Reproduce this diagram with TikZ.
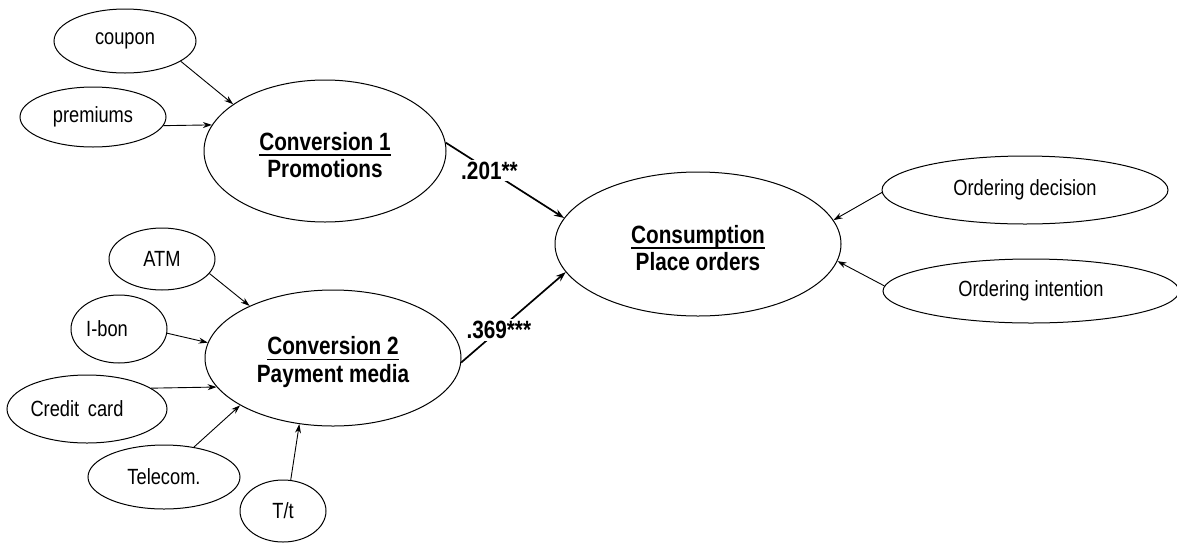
\documentclass[tikz,border=0pt]{standalone}
\usepackage{fontspec}
\setmainfont{Liberation Sans}[FakeStretch=0.83]
\usetikzlibrary{shapes.geometric,arrows.meta}

% bold heading line with a thick underline
\newsavebox\headbox
\newcommand\headline[1]{\sbox\headbox{#1}\rule{0pt}{26pt}\rlap{\rule[-5.5pt]{\wd\headbox}{1.4pt}}\usebox\headbox}

\tikzset{
  oval/.style={ellipse, draw, line width=1pt, inner sep=0pt,
    font=\fontsize{22}{26}\selectfont},
  construct/.style={oval, align=center,
    font=\fontsize{25}{27.5}\selectfont\bfseries},
  feed/.style={line width=0.9pt, -{Stealth[length=9pt,width=6pt]}},
  path/.style={line width=1.7pt, -{Stealth[length=10pt,width=7pt]}},
  coef/.style={fill=white, inner sep=2pt, font=\fontsize{25}{27}\selectfont\bfseries}
}

\begin{document}
\begin{tikzpicture}[x=1pt,y=-1pt]
\useasboundingbox (0,0) rectangle (1177,544);

% constructs
\node[construct, minimum width=242pt, minimum height=142pt] (c1) at (325,151)
  {\headline{Conversion 1}\\Promotions};
\node[construct, minimum width=256pt, minimum height=136pt] (c2) at (333,358)
  {\headline{Conversion 2}\\Payment media};
\node[construct, minimum width=286pt, minimum height=144pt] (cons) at (698,244)
  {\headline{Consumption}\\Place orders};

% promotion indicators
\node[oval, minimum width=142pt, minimum height=64pt] (coupon) at (125,41) {coupon};
\node[oval, minimum width=146pt, minimum height=60pt] (prem) at (93,117) {premiums};

% payment media indicators
\node[oval, minimum width=106pt, minimum height=62pt] (atm) at (162,259) {ATM};
\node[oval, minimum width=96pt, minimum height=68pt] (ibon) at (119,329) {I-bon\hspace*{24pt}};
\node[oval, minimum width=160pt, minimum height=68pt] (card) at (87,409) {Credit\, card\hspace*{20pt}};
\node[oval, minimum width=152pt, minimum height=64pt] (tel) at (164,477) {Telecom.};
\node[oval, minimum width=86pt, minimum height=62pt] (tt) at (283,511) {T/t};

% consumption indicators
\node[oval, minimum width=286pt, minimum height=68pt] (dec) at (1025,190) {Ordering decision};
\node[oval, minimum width=296pt, minimum height=64pt] (int) at (1031,291) {Ordering intention};

% indicator arrows
\draw[feed] (coupon.-20) -- (c1.153);
\draw[feed] (prem.-7) -- (c1.167);
\draw[feed] (atm.-17) -- (c2.148);
\draw[feed] (ibon.-5) -- (c2.173);
\draw[feed] (card.18) -- (c2.194);
\draw[feed] (tel.45) -- (c2.207);
\draw[feed] (tt.76) -- (c2.243);
\draw[feed] (dec.181) -- (cons.10);
\draw[feed] (int.178) -- (cons.-7);

% structural paths
\draw[path] (c1.4) -- node[coef, pos=0.37] {.201**} (cons.169);
\draw[path] (c2.-2) -- node[coef, pos=0.36] {.369***} (cons.192);
\end{tikzpicture}
\end{document}
